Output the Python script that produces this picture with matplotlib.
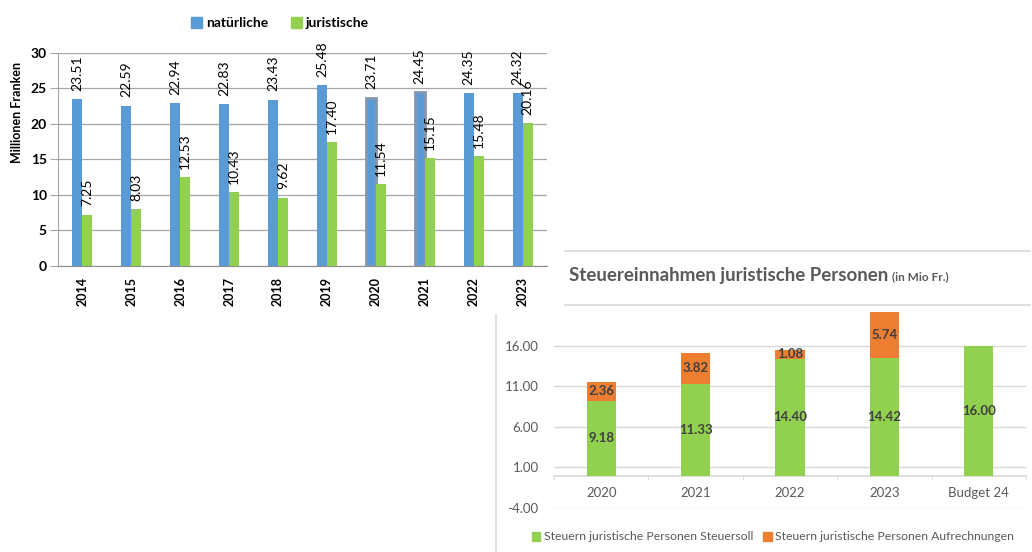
import matplotlib
matplotlib.use('Agg')
import matplotlib.pyplot as plt
from matplotlib.patches import Patch
from matplotlib.lines import Line2D
import numpy as np

plt.rcParams['font.family'] = ['Lato', 'DejaVu Sans']

# left chart data
jahre = ['2014', '2015', '2016', '2017', '2018', '2019', '2020', '2021', '2022', '2023']
natuerliche = [23.51, 22.59, 22.94, 22.83, 23.43, 25.48, 23.71, 24.45, 24.35, 24.32]
juristische = [7.25, 8.03, 12.53, 10.43, 9.62, 17.40, 11.54, 15.15, 15.48, 20.16]

# right chart data
kategorien = ['2020', '2021', '2022', '2023', 'Budget 24']
steuersoll = [9.18, 11.33, 14.40, 14.42, 16.00]
aufrechnungen = [2.36, 3.82, 1.08, 5.74, 0.0]

W, H = 1032, 552
blau = '#5B9BD5'
gruen = '#92D050'
orange = '#ED7D31'
grau = '#595959'

fig = plt.figure(figsize=(W / 100, H / 100), dpi=100)

def px(x0, y0, x1, y1):
    return [x0 / W, 1 - y1 / H, (x1 - x0) / W, (y1 - y0) / H]

######  links
ax = fig.add_axes(px(58, 53, 547, 266))
x = np.arange(len(jahre))
bw = 0.205
b1 = ax.bar(x - bw / 2, natuerliche, bw, color=blau, zorder=3)
b2 = ax.bar(x + bw / 2, juristische, bw, color=gruen, zorder=3)
for i in (6, 7):
    b1[i].set_edgecolor('#8497B0')
    b1[i].set_linewidth(2)
for bars, vals in ((b1, natuerliche), (b2, juristische)):
    for r, v in zip(bars, vals):
        ax.annotate('%.2f' % v, (r.get_x() + r.get_width() / 2, v),
                    xytext=(0, 6), textcoords='offset points', rotation=90,
                    ha='center', va='bottom', fontsize=10, color='black')
ax.set_xlim(-0.5, len(jahre) - 0.5)
ax.set_ylim(0, 30)
ax.set_yticks(range(0, 31, 5))
ax.set_xticks(x)
ax.set_xticklabels(jahre, rotation=90, fontweight='bold', fontsize=9)
ax.tick_params(axis='x', length=0, pad=8)
ax.tick_params(axis='y', length=6, color='#A6A6A6', labelsize=10, pad=2)
for t in ax.get_yticklabels():
    t.set_fontweight('bold')
ax.grid(axis='y', color='#A6A6A6', linewidth=0.9, zorder=0)
for s in ('top', 'right'):
    ax.spines[s].set_visible(False)
ax.spines['left'].set_color('#A6A6A6')
ax.spines['bottom'].set_color('#8C8C8C')
fig.text(17 / W, 1 - 112 / H, 'Millionen Franken', rotation=90, ha='center',
         va='center', fontsize=9, fontweight='bold')
fig.legend(handles=[Patch(color=blau, label='natürliche'), Patch(color=gruen, label='juristische')],
           loc='center', bbox_to_anchor=(280 / W, 1 - 23 / H), ncol=2, frameon=False,
           handlelength=0.8, handleheight=0.8, handletextpad=0.3, columnspacing=1.6,
           prop={'weight': 'bold', 'size': 10})

######  rechts
# rahmenlinien des eingefuegten bildes
fig.add_artist(Line2D([565 / W, 1030 / W], [1 - 251 / H, 1 - 251 / H], color='#D9D9D9', lw=1.2))
fig.add_artist(Line2D([565 / W, 1030 / W], [1 - 305 / H, 1 - 305 / H], color='#D9D9D9', lw=1.2))
fig.add_artist(Line2D([496 / W, 496 / W], [0, 1 - 315 / H], color='#D9D9D9', lw=1.2))

ax2 = fig.add_axes(px(554, 305, 1026, 508))
x2 = np.arange(len(kategorien))
bw2 = 0.31
r1 = ax2.bar(x2, steuersoll, bw2, color=gruen, zorder=3)
r2 = ax2.bar(x2, aufrechnungen, bw2, bottom=steuersoll, color=orange, zorder=3)
for i in range(len(kategorien)):
    ax2.text(x2[i], steuersoll[i] / 2, '%.2f' % steuersoll[i], ha='center', va='center',
             fontsize=9.5, fontweight='bold', color='#404040', zorder=4)
    if aufrechnungen[i] > 0:
        ax2.text(x2[i], steuersoll[i] + aufrechnungen[i] / 2, '%.2f' % aufrechnungen[i],
                 ha='center', va='center', fontsize=9.5, fontweight='bold', color='#404040', zorder=4)
ax2.set_xlim(-0.5, len(kategorien) - 0.5)
ax2.set_ylim(-4, 21)
ax2.set_yticks([-4, 1, 6, 11, 16])
ax2.set_yticklabels(['%.2f' % v for v in [-4, 1, 6, 11, 16]])
ax2.grid(axis='y', color='#D9D9D9', linewidth=1, zorder=0)
ax2.set_xticks(x2)
ax2.set_xticklabels(kategorien)
ax2.set_xticks(np.arange(-0.5, len(kategorien)), minor=True)
ax2.tick_params(axis='x', which='major', length=0, pad=8, labelsize=9.5, labelcolor=grau)
ax2.tick_params(axis='x', which='minor', length=3, color='#D9D9D9', direction='out')
ax2.tick_params(axis='y', length=0, pad=11, labelsize=9.5, labelcolor=grau)
for s in ('top', 'right', 'left'):
    ax2.spines[s].set_visible(False)
ax2.spines['bottom'].set_position(('data', 0))
ax2.spines['bottom'].set_color('#D9D9D9')
ax2.spines['bottom'].set_linewidth(1.2)

titel = fig.text(569 / W, 1 - 276 / H, 'Steuereinnahmen juristische Personen', ha='left',
                 va='center', fontsize=13.5, fontweight='bold', color=grau)
fig.canvas.draw()
bb = titel.get_window_extent()
fig.text((bb.x1 + 4) / W, 1 - 277 / H, '(in Mio Fr.)', ha='left', va='center',
         fontsize=8.5, fontweight='bold', color=grau)

fig.legend(handles=[Patch(color=gruen, label='Steuern juristische Personen Steuersoll'),
                    Patch(color=orange, label='Steuern juristische Personen Aufrechnungen')],
           loc='center', bbox_to_anchor=(773 / W, 1 - 537 / H), ncol=2, frameon=False,
           handlelength=0.7, handleheight=0.7, handletextpad=0.3, columnspacing=0.8,
           fontsize=8.8, labelcolor=grau)

fig.savefig('out.png', dpi=100)
